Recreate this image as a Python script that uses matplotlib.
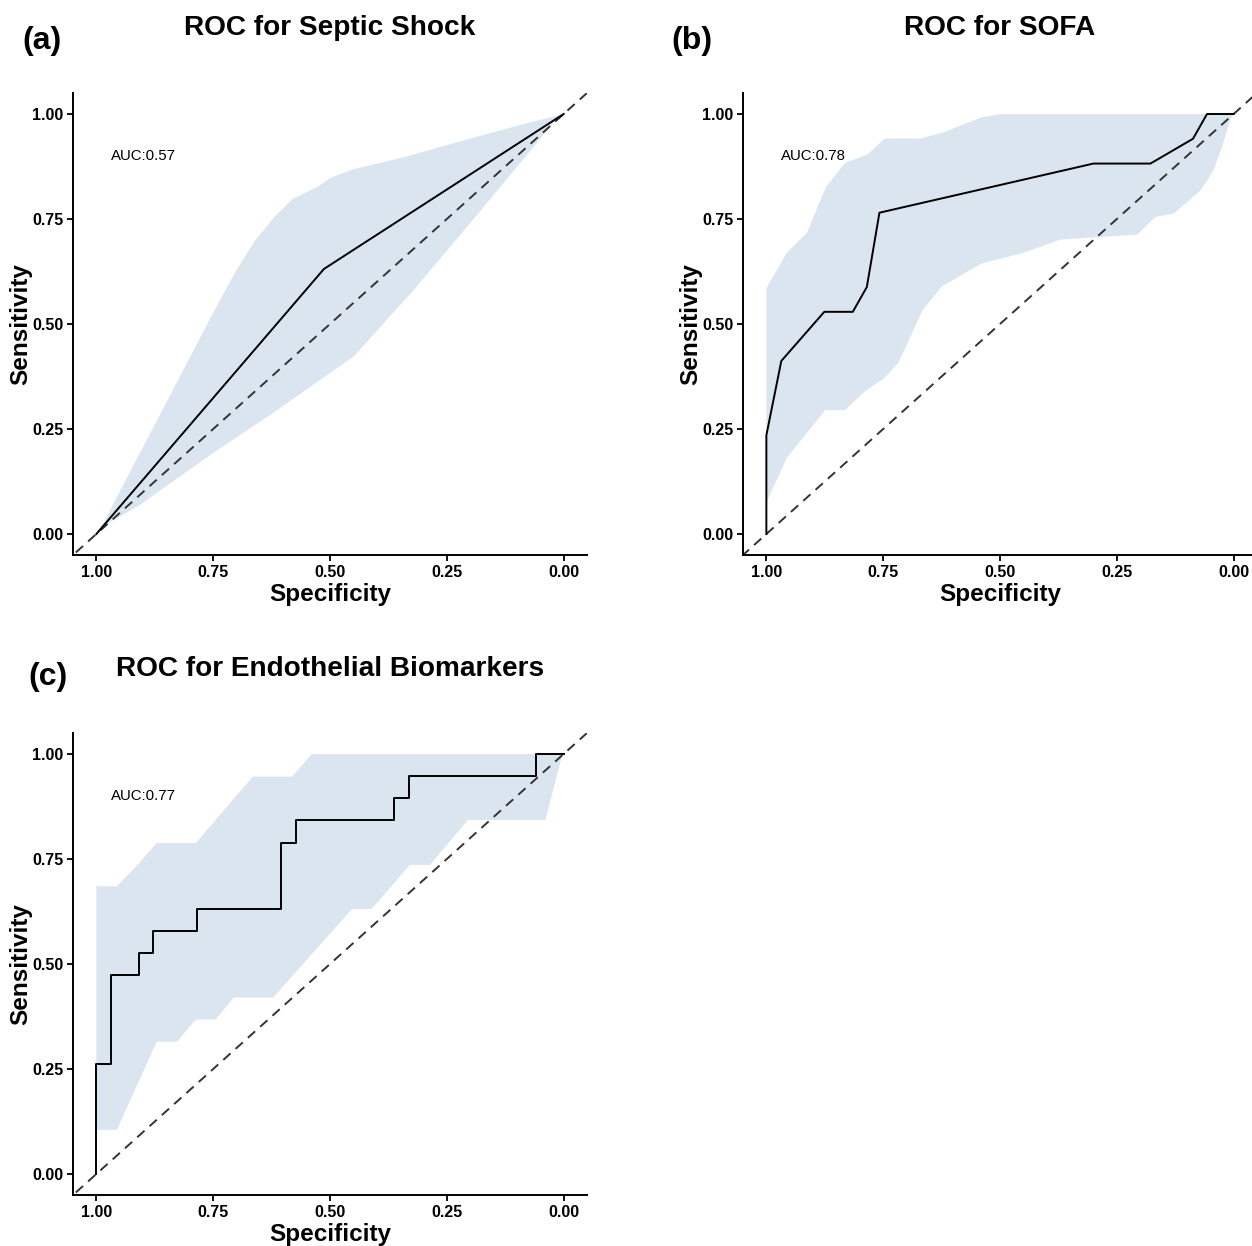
import matplotlib.pyplot as plt

plt.rcParams['font.family'] = ['Liberation Sans', 'DejaVu Sans']

# ---- (a) Septic shock
spec_a = [1.0, 0.513, 0.0]
sens_a = [0.0, 0.631, 1.0]
ci_a_up_x = [1.0, 0.984, 0.910, 0.832, 0.754, 0.704, 0.662, 0.619, 0.580, 0.527, 0.499, 0.452, 0.343, 0.201, 0.073, 0.013, 0.0]
ci_a_up_y = [0.0, 0.028, 0.186, 0.352, 0.518, 0.621, 0.696, 0.755, 0.798, 0.826, 0.848, 0.868, 0.897, 0.941, 0.980, 0.996, 1.0]
ci_a_lo_x = [1.0, 0.984, 0.910, 0.754, 0.612, 0.449, 0.321, 0.201, 0.059, 0.013, 0.0]
ci_a_lo_y = [0.0, 0.020, 0.067, 0.190, 0.296, 0.423, 0.581, 0.739, 0.929, 0.992, 1.0]

# ---- (b) SOFA
spec_b = [1.0, 1.0, 0.968, 0.876, 0.815, 0.785, 0.758, 0.300, 0.178, 0.087, 0.057, 0.0]
sens_b = [0.0, 0.235, 0.412, 0.529, 0.529, 0.588, 0.765, 0.882, 0.882, 0.941, 1.0, 1.0]
ci_b_up_x = [1.0, 0.956, 0.913, 0.873, 0.832, 0.783, 0.746, 0.668, 0.619, 0.540, 0.497, 0.0]
ci_b_up_y = [0.585, 0.670, 0.717, 0.825, 0.883, 0.904, 0.942, 0.942, 0.957, 0.992, 1.0, 1.0]
ci_b_lo_x = [1.0, 0.956, 0.874, 0.832, 0.789, 0.750, 0.718, 0.665, 0.625, 0.540, 0.455, 0.370,
             0.206, 0.167, 0.128, 0.071, 0.043, 0.025, 0.007, 0.0]
ci_b_lo_y = [0.075, 0.182, 0.295, 0.295, 0.340, 0.369, 0.407, 0.534, 0.589, 0.644, 0.668, 0.701,
             0.713, 0.755, 0.763, 0.818, 0.866, 0.921, 0.988, 1.0]

# ---- (c) Endothelial biomarkers (step curve)
spec_c = [1.0, 1.0, 0.969, 0.969, 0.909, 0.909, 0.878, 0.878, 0.785, 0.785, 0.604, 0.604,
          0.572, 0.572, 0.362, 0.362, 0.330, 0.330, 0.059, 0.059, 0.0]
sens_c = [0.0, 0.263, 0.263, 0.474, 0.474, 0.526, 0.526, 0.579, 0.579, 0.632, 0.632, 0.789,
          0.789, 0.842, 0.842, 0.895, 0.895, 0.947, 0.947, 1.0, 1.0]
ci_c_up_x = [1.0, 0.956, 0.912, 0.871, 0.787, 0.748, 0.665, 0.581, 0.539, 0.0]
ci_c_up_y = [0.685, 0.685, 0.736, 0.788, 0.788, 0.839, 0.946, 0.946, 1.0, 1.0]
ci_c_lo_x = [1.0, 0.956, 0.871, 0.828, 0.787, 0.745, 0.706, 0.622, 0.453, 0.411, 0.329,
             0.286, 0.205, 0.039, 0.004, 0.0]
ci_c_lo_y = [0.105, 0.105, 0.315, 0.315, 0.368, 0.368, 0.420, 0.420, 0.631, 0.631, 0.736,
             0.736, 0.843, 0.843, 0.994, 1.0]

titles = ["ROC for Septic Shock", "ROC for SOFA", "ROC for Endothelial Biomarkers"]
tags = ["(a)", "(b)", "(c)"]
aucs = ["AUC:0.57", "AUC:0.78", "AUC:0.77"]

panels = [
    (spec_a, sens_a, ci_a_up_x, ci_a_up_y, ci_a_lo_x, ci_a_lo_y),
    (spec_b, sens_b, ci_b_up_x, ci_b_up_y, ci_b_lo_x, ci_b_lo_y),
    (spec_c, sens_c, ci_c_up_x, ci_c_up_y, ci_c_lo_x, ci_c_lo_y),
]

W, H = 1252, 1246
fig = plt.figure(figsize=(W / 100, H / 100), dpi=100)

# axes boxes in pixels: left, top, right, bottom
boxes = [(73, 93, 587, 555), (743, 93, 1257, 555), (73, 733, 587, 1195)]
tag_pos = [(42, 41), (692, 41), (48, 677)]
title_y = [28, 28, 669]

ci_color = '#DAE5EF'

for i, (sx, sy, ux, uy, lx, ly) in enumerate(panels):
    l, t, r, b = boxes[i]
    ax = fig.add_axes([l / W, 1 - b / H, (r - l) / W, (b - t) / H])

    poly_x = ux + lx[::-1]
    poly_y = uy + ly[::-1]
    ax.fill(poly_x, poly_y, color=ci_color, lw=0, zorder=1)
    ax.axline((1, 0), (0, 1), color='#333333', lw=1.4, ls=(0, (5, 3.5)), zorder=2)
    ax.plot(sx, sy, color='black', lw=1.4, zorder=3)

    ax.set_xlim(1.05, -0.05)
    ax.set_ylim(-0.05, 1.05)
    ticks = [1.0, 0.75, 0.5, 0.25, 0.0]
    ax.set_xticks(ticks)
    ax.set_yticks(ticks)
    ax.set_xticklabels(["%.2f" % v for v in ticks], fontweight='bold', fontsize=11.5)
    ax.set_yticklabels(["%.2f" % v for v in ticks], fontweight='bold', fontsize=11.5)
    ax.tick_params(direction='out', length=4, width=1.3, pad=3, colors='black')
    for s in ['top', 'right']:
        ax.spines[s].set_visible(False)
    for s in ['left', 'bottom']:
        ax.spines[s].set_linewidth(1.4)

    ax.set_xlabel("Specificity", fontsize=17.5, fontweight='bold', labelpad=2)
    ax.set_ylabel("Sensitivity", fontsize=17.5, fontweight='bold', labelpad=0)
    ax.text(0.9, 0.9, aucs[i], ha='center', va='center', fontsize=10.8)

    fig.text(((l + r) / 2) / W, 1 - title_y[i] / H, titles[i], ha='center', va='center',
             fontsize=20.2, fontweight='bold')
    fig.text(tag_pos[i][0] / W, 1 - tag_pos[i][1] / H, tags[i], ha='center', va='center',
             fontsize=23, fontweight='bold')

fig.savefig('out.png', dpi=100)
